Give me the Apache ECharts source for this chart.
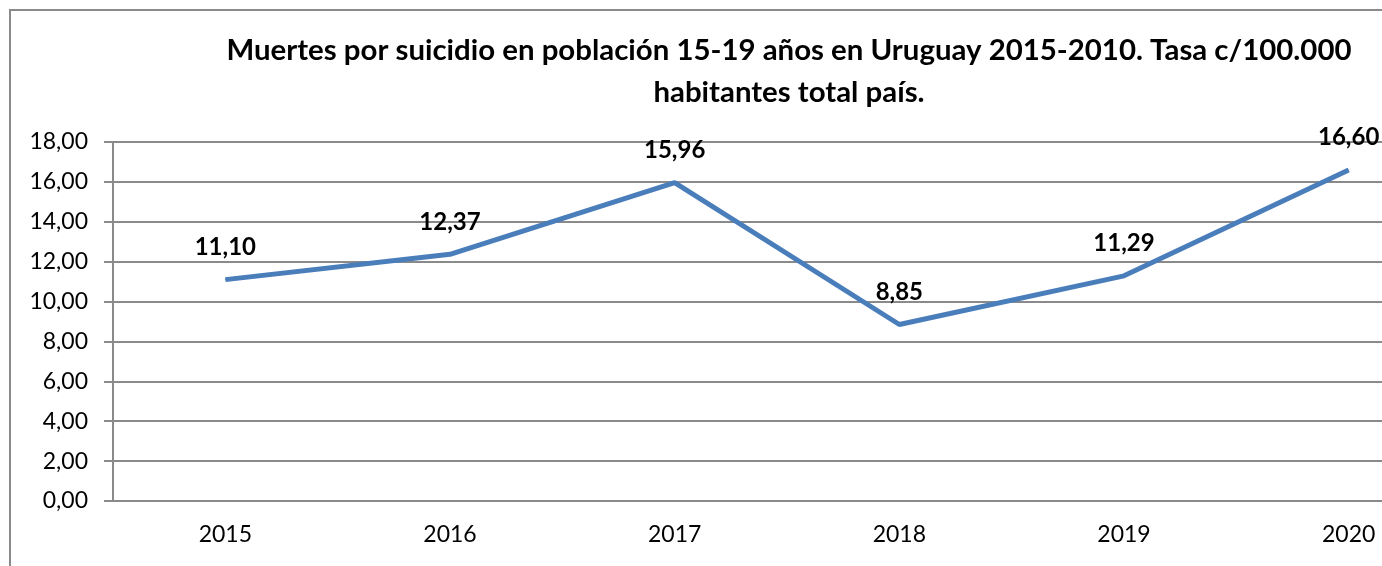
<!DOCTYPE html>
<html>
<head>
<meta charset="utf-8">
<script src="https://cdn.jsdelivr.net/npm/echarts@6/dist/echarts.min.js"></script>
<style>
  html, body { margin: 0; padding: 0; background: #fff; overflow: hidden; }
  /* the plot runs past the right edge of the picture, so the canvas is wider */
  #chart { width: 1500px; height: 566px; }
</style>
</head>
<body>
<div id="chart"></div>
<script>
var years = ['2015', '2016', '2017', '2018', '2019', '2020']
var tasa = [11.10, 12.37, 15.96, 8.85, 11.29, 16.60]

var fmt = function (v) { return Number(v).toFixed(2).replace('.', ',') }

var myChart = echarts.init(document.getElementById('chart'))
var option = {
  animation: false,
  textStyle: { fontFamily: 'Lato' },
  title: {
    text: 'Muertes por suicidio en población 15-19 años en Uruguay 2015-2010. Tasa c/100.000\nhabitantes total país.',
    left: 784,
    top: 25,
    textAlign: 'center',
    textStyle: { fontSize: 29.4, fontWeight: 'bold', color: '#000', lineHeight: 42, fontFamily: 'Lato' }
  },
  graphic: [{
    type: 'rect',
    shape: { x: 10, y: 10, width: 1600, height: 700 },
    style: { fill: 'none', stroke: '#8a8a8a', lineWidth: 2 }
  }],
  grid: { left: 113, right: 39, top: 142, bottom: 65, outerBoundsMode: 'none' },
  xAxis: {
    type: 'category',
    data: years,
    axisLine: { lineStyle: { color: '#8a8a8a', width: 2 } },
    axisTick: { length: 8, lineStyle: { color: '#8a8a8a', width: 2 } },
    axisLabel: { color: '#000', fontSize: 23, margin: 22 }
  },
  yAxis: {
    type: 'value',
    min: 0,
    max: 18,
    interval: 2,
    axisLine: { show: true, lineStyle: { color: '#8a8a8a', width: 2 } },
    axisTick: { show: true, length: 9, lineStyle: { color: '#8a8a8a', width: 2 } },
    splitLine: { lineStyle: { color: '#8a8a8a', width: 2 } },
    axisLabel: { color: '#000', fontSize: 23, margin: 25, formatter: fmt }
  },
  series: [{
    type: 'line',
    data: tasa,
    symbol: 'circle',
    symbolSize: 1,
    itemStyle: { color: '#4a7ebb' },
    lineStyle: { color: '#4a7ebb', width: 5 },
    label: {
      show: true,
      position: 'top',
      distance: 20,
      color: '#000',
      fontSize: 24,
      fontWeight: 'bold',
      formatter: function (p) { return fmt(p.value) }
    }
  }]
}
myChart.setOption(option)
</script>
</body>
</html>
